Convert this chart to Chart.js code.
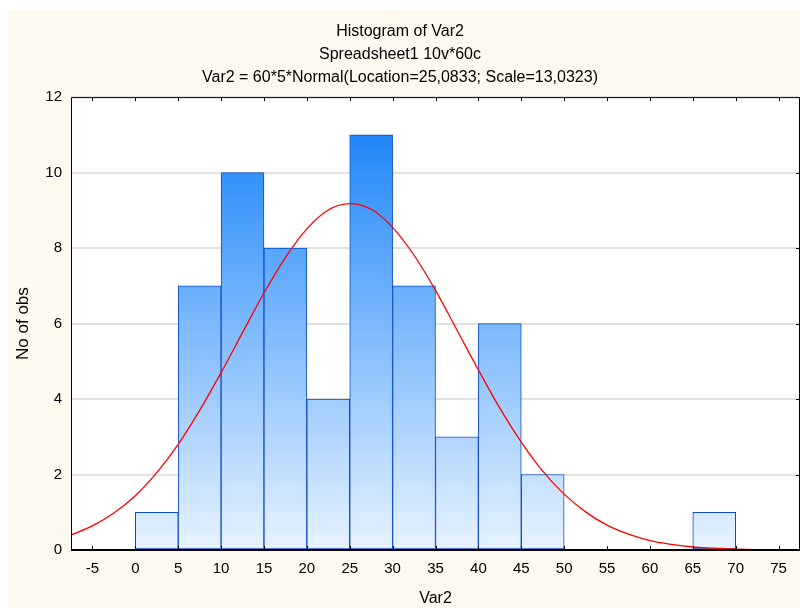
<!DOCTYPE html>
<html>
<head>
<meta charset="utf-8">
<title>Histogram of Var2</title>
<script src="https://cdn.jsdelivr.net/npm/chart.js@4"></script>
<style>
  html, body { margin: 0; padding: 0; background: #ffffff; }
  #wrap { width: 800px; height: 608px; }
</style>
</head>
<body>
<div id="wrap"><canvas id="histChart" width="800" height="608"></canvas></div>
<script>
// Histogram bins (centre of each 5-wide bin) and counts
const binCenters = [2.5, 7.5, 12.5, 17.5, 22.5, 27.5, 32.5, 37.5, 42.5, 47.5, 67.5];
const binCounts = [1, 7, 10, 8, 4, 11, 7, 3, 6, 2, 1];

// Fitted normal curve
const curveX = [-7.5, -5, -2.5, 0, 2.5, 5, 7.5, 10, 12.5, 15, 17.5, 20, 22.5, 25, 27.5,
  30, 32.5, 35, 37.5, 40, 42.5, 45, 47.5, 50, 52.5, 55, 57.5, 60, 62.5, 65, 67.5,
  70, 72.5, 75, 77.5];
const curveY = [0.40, 0.64, 0.98, 1.44, 2.05, 2.80, 3.70, 4.70, 5.76, 6.81, 7.75,
  8.51, 9.01, 9.18, 9.03, 8.55, 7.81, 6.88, 5.83, 4.77, 3.76, 2.86, 2.09, 1.48,
  1.01, 0.66, 0.42, 0.25, 0.15, 0.08, 0.05, 0.02, 0.01, 0.01, 0.00];

// Axis ticks
const xTicks = [-5, 0, 5, 10, 15, 20, 25, 30, 35, 40, 45, 50, 55, 60, 65, 70, 75];
const yTicks = [0, 2, 4, 6, 8, 10, 12];

const titleLines = [
  "Histogram of Var2",
  "Spreadsheet1 10v*60c",
  "Var2 = 60*5*Normal(Location=25,0833; Scale=13,0323)"
];

const FONT = "'Liberation Sans', Arial, sans-serif";

let barGradient = null;
function getGradient(chart) {
  const area = chart.chartArea;
  if (!area) return "#7ab8fc";
  if (!barGradient) {
    barGradient = chart.ctx.createLinearGradient(0, area.bottom, 0, area.top);
    barGradient.addColorStop(0, "#e8f3ff");
    barGradient.addColorStop(1, "#0f7ef8");
  }
  return barGradient;
}

// cream page background, white plot area
const backgroundPlugin = {
  id: "background",
  beforeDraw(chart) {
    const ctx = chart.ctx;
    const a = chart.chartArea;
    ctx.save();
    ctx.fillStyle = "#fdf9ee";
    ctx.fillRect(8, 10, chart.width - 8, chart.height - 10);
    ctx.fillStyle = "#ffffff";
    ctx.fillRect(a.left, a.top, a.right - a.left, a.bottom - a.top);
    ctx.restore();
  }
};

// black frame with inward tick marks
const framePlugin = {
  id: "frame",
  afterDraw(chart) {
    const ctx = chart.ctx;
    const a = chart.chartArea;
    const xs = chart.scales.x;
    const ys = chart.scales.y;
    ctx.save();
    ctx.strokeStyle = "#000000";
    ctx.lineWidth = 1;
    ctx.beginPath();
    ctx.moveTo(a.left + 0.5, a.bottom);
    ctx.lineTo(a.left + 0.5, a.top + 0.5);
    ctx.lineTo(a.right - 0.5, a.top + 0.5);
    ctx.lineTo(a.right - 0.5, a.bottom);
    ctx.stroke();
    ctx.lineWidth = 2;
    ctx.beginPath();
    ctx.moveTo(a.left, Math.round(a.bottom));
    ctx.lineTo(a.right, Math.round(a.bottom));
    ctx.stroke();
    ctx.lineWidth = 1;
    ctx.beginPath();
    xTicks.forEach((v) => {
      const px = Math.round(xs.getPixelForValue(v)) + 0.5;
      ctx.moveTo(px, a.bottom);
      ctx.lineTo(px, a.bottom - 4);
      ctx.moveTo(px, a.top);
      ctx.lineTo(px, a.top + 4);
    });
    yTicks.forEach((v) => {
      const py = Math.round(ys.getPixelForValue(v)) + 0.5;
      ctx.moveTo(a.right, py);
      ctx.lineTo(a.right - 4, py);
    });
    ctx.stroke();
    ctx.restore();
  }
};

const ctx = document.getElementById("histChart").getContext("2d");
new Chart(ctx, {
  type: "bar",
  data: {
    datasets: [
      {
        type: "line",
        label: "Normal",
        data: curveX.map((x, i) => ({ x: x, y: curveY[i] })),
        borderColor: "#ff0000",
        borderWidth: 1.3,
        pointRadius: 0,
        cubicInterpolationMode: "monotone",
        fill: false,
        order: 0
      },
      {
        type: "bar",
        label: "Var2",
        data: binCenters.map((x, i) => ({ x: x, y: binCounts[i] })),
        backgroundColor: (c) => getGradient(c.chart),
        borderColor: "#0a4bd0",
        borderWidth: 1,
        borderSkipped: false,
        barPercentage: 1,
        categoryPercentage: 1,
        grouped: false,
        order: 1
      }
    ]
  },
  options: {
    responsive: false,
    animation: false,
    layout: { padding: { top: 20, left: 0, right: 0, bottom: 0 } },
    plugins: {
      legend: { display: false },
      tooltip: { enabled: false },
      title: {
        display: true,
        text: titleLines,
        color: "#000000",
        font: { family: FONT, size: 16, weight: "normal", lineHeight: 1.44 },
        padding: { top: 0, bottom: 8 }
      }
    },
    scales: {
      x: {
        type: "linear",
        min: -7.5,
        max: 77.5,
        offset: false,
        grid: { display: false, drawTicks: false },
        border: { display: false },
        afterBuildTicks: (scale) => {
          scale.ticks = xTicks.map((v) => ({ value: v }));
        },
        afterFit: (scale) => { scale.height = 58; },
        ticks: {
          autoSkip: false,
          maxRotation: 0,
          padding: 10,
          color: "#000000",
          font: { family: FONT, size: 15 }
        },
        title: {
          display: true,
          text: "Var2",
          color: "#000000",
          font: { family: FONT, size: 16 },
          padding: { top: 0, bottom: 0 }
        }
      },
      y: {
        min: 0,
        max: 12,
        grid: { color: "#e2e2e2", lineWidth: 2, drawTicks: false },
        border: { display: false },
        afterBuildTicks: (scale) => {
          scale.ticks = yTicks.map((v) => ({ value: v }));
        },
        afterFit: (scale) => { scale.width = 71; },
        ticks: {
          padding: 9,
          color: "#000000",
          font: { family: FONT, size: 15 }
        },
        title: {
          display: true,
          text: "No of obs",
          color: "#000000",
          font: { family: FONT, size: 17 },
          padding: { top: 13, bottom: 0 }
        }
      }
    }
  },
  plugins: [backgroundPlugin, framePlugin]
});
</script>
</body>
</html>
